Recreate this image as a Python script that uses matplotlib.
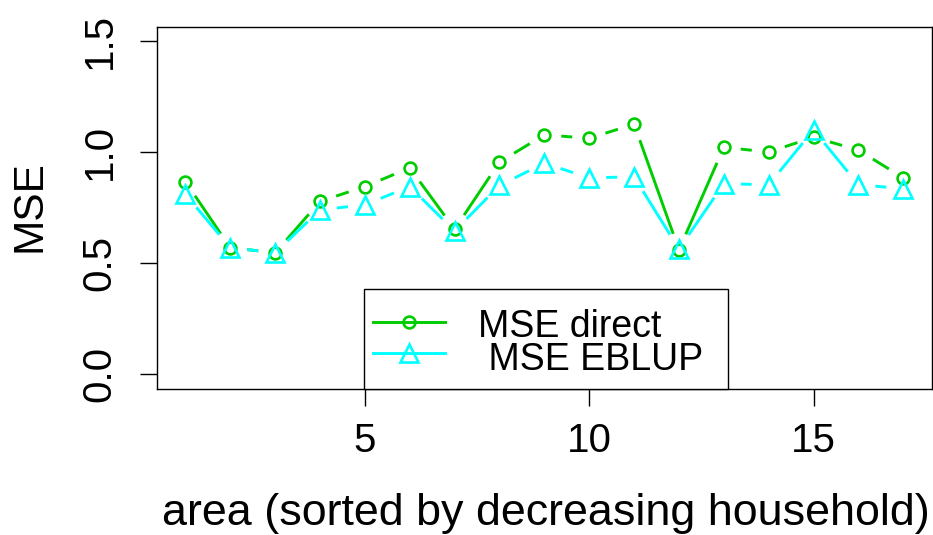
import numpy as np
import matplotlib
matplotlib.use("Agg")
import matplotlib.pyplot as plt
from matplotlib.collections import LineCollection
from matplotlib.patches import Rectangle

# ── Data ──────────────────────────────────────────────────────────────────────

area = list(range(1, 18))
mse_direct = [0.867, 0.57, 0.547, 0.778, 0.845, 0.929, 0.653, 0.955, 1.078,
              1.062, 1.126, 0.56, 1.022, 1.0, 1.067, 1.009, 0.884]
mse_eblup = [0.81, 0.57, 0.547, 0.74, 0.763, 0.845, 0.645, 0.85, 0.95,
             0.884, 0.889, 0.564, 0.858, 0.853, 1.10, 0.853, 0.836]

x_ticks = [5, 10, 15]
y_ticks = [0.0, 0.5, 1.0, 1.5]
y_ticklabels = ["0.0", "0.5", "1.0", "1.5"]

# ── Style ─────────────────────────────────────────────────────────────────────

GREEN = "#00CD00"
CYAN = "#00FFFF"
FONT = "Liberation Sans"
W, H, DPI = 933, 535, 100
GAP = 17      # px gap around points, like R's type="b"
LW = 2.1
MEW = 1.9

plt.rcParams["font.family"] = FONT

fig = plt.figure(figsize=(W / DPI, H / DPI), dpi=DPI)
fig.patch.set_facecolor("white")

# axes box in pixels: left 156.7, right 932, top 27, bottom 389
ax = fig.add_axes([156.7 / W, 1 - 389 / H, (932 - 156.7) / W, (389 - 27) / H])
ax.set_xlim(0.36, 17.64)
ax.set_ylim(-0.066, 1.563)


def gapped(x, y, color):
    pts = ax.transData.transform(np.column_stack([x, y]))
    inv = ax.transData.inverted()
    segs = []
    for p, q in zip(pts[:-1], pts[1:]):
        d = q - p
        L = np.hypot(*d)
        if L > 2 * GAP:
            a = p + d / L * GAP
            b = q - d / L * GAP
            segs.append(inv.transform(np.array([a, b])))
    ax.add_collection(LineCollection(segs, colors=color, linewidths=LW,
                                     capstyle="butt", zorder=2))


gapped(area, mse_direct, GREEN)
gapped(area, mse_eblup, CYAN)
ax.plot(area, mse_direct, linestyle="none", marker="o", markersize=8.5,
        markerfacecolor="none", markeredgecolor=GREEN, markeredgewidth=MEW,
        zorder=3)
ax.plot(area, mse_eblup, linestyle="none", marker="^", markersize=12.5,
        markerfacecolor="none", markeredgecolor=CYAN, markeredgewidth=MEW,
        zorder=3)

# ── Axes styling ──────────────────────────────────────────────────────────────

for sp in ax.spines.values():
    sp.set_linewidth(1.0)
    sp.set_color("black")

ax.set_xticks(x_ticks)
ax.set_xticklabels([str(t) for t in x_ticks], fontsize=29, family=FONT)
ax.set_yticks(y_ticks)
ax.set_yticklabels(y_ticklabels, fontsize=29, rotation=90, va="center",
                   family=FONT)
ax.tick_params(axis="x", length=12.5, width=1, pad=11)
ax.tick_params(axis="y", length=12.5, width=1, pad=15)

fig.text(29 / W, 1 - 206 / H, "MSE", rotation=90, ha="center", va="center",
         fontsize=30.5)
fig.text(546 / W, 1 - 525 / H, "area (sorted by decreasing household)",
         ha="center", va="baseline", fontsize=32.3)

# ── Legend (drawn by hand, R style) ───────────────────────────────────────────

def ax_x(px):
    return (px - 156.7) / (932 - 156.7)


def ax_y(py):
    return (389 - py) / (389 - 27)


ax.add_patch(Rectangle((ax_x(364), 0), ax_x(728) - ax_x(364), ax_y(289),
                       transform=ax.transAxes, facecolor="white",
                       edgecolor="black", linewidth=1.0, zorder=4,
                       clip_on=False))

for py, color, marker, ms, label, tx, ty in [
    (322, GREEN, "o", 8.5, "MSE direct", 478, 337),
    (353, CYAN, "^", 12.5, " MSE EBLUP", 478, 370),
]:
    ax.plot([ax_x(373), ax_x(409), ax_x(445)], [ax_y(py)] * 3,
            color=color, linewidth=LW, marker=marker, markevery=[1],
            markersize=ms, markerfacecolor="none", markeredgecolor=color,
            markeredgewidth=MEW, transform=ax.transAxes, zorder=5,
            clip_on=False)
    ax.text(ax_x(tx), ax_y(ty), label, transform=ax.transAxes,
            fontsize=27, ha="left", va="baseline", zorder=6)

fig.savefig("out.png", dpi=DPI, facecolor="white")
